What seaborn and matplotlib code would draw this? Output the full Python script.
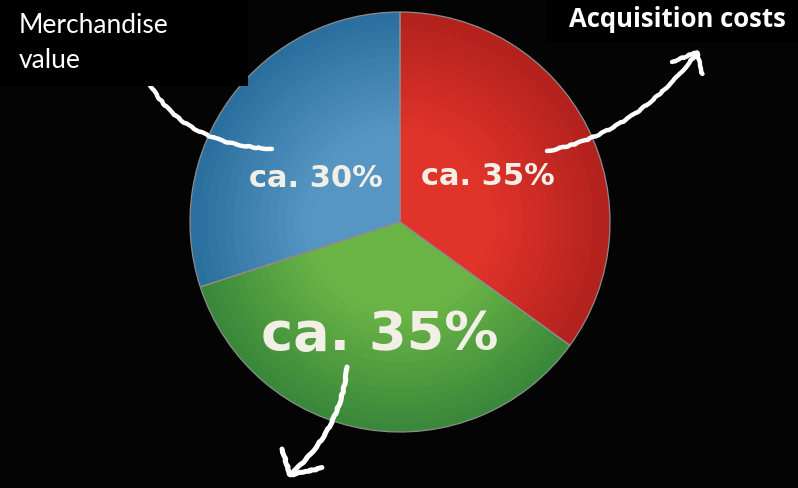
import numpy as np
import matplotlib
matplotlib.use("Agg")
import matplotlib.pyplot as plt
from matplotlib.path import Path
from matplotlib.patches import PathPatch, Rectangle
import matplotlib.colors as mcolors
import seaborn as sns

# Cost shares (clockwise from 12 o'clock)
categories = ["Acquisition costs", "Other", "Merchandise value"]
shares = [35, 35, 30]
edge_colors = ["#b3221d", "#3a883a", "#2b6f9e"]
inner_colors = ["#e0332a", "#6ab446", "#5796c2"]
label_sizes = [22, 39, 22]
# small nudges of the percentage labels (in pie-radius units)
label_nudge = [(-0.02, 0.0), (-0.02, -0.048), (-0.005, -0.076)]

sns.set_theme(style="dark", rc={"figure.facecolor": "#040404",
                                "axes.facecolor": "#040404"})

W, H = 798, 489
fig = plt.figure(figsize=(W / 100, H / 100), dpi=100)

# pie axes: centre (400, 223) px, radius 210 px
cx, cy, R = 400, 223, 210
ax = fig.add_axes([(cx - R) / W, (H - cy - R) / H, 2 * R / W, 2 * R / H])
ax.set_facecolor("none")

# radial shading: stacked pies from the rim inwards
radii = np.linspace(1.0, 0.05, 24)
for r in radii:
    t = min(1.0, (1.0 - r) / 0.55)
    cols = []
    for e, i in zip(edge_colors, inner_colors):
        e_rgb = np.array(mcolors.to_rgb(e))
        i_rgb = np.array(mcolors.to_rgb(i))
        cols.append(tuple(e_rgb + (i_rgb - e_rgb) * t))
    ax.pie(shares, radius=r, colors=cols, startangle=90, counterclock=False,
           wedgeprops=dict(linewidth=0))

# thin outline on top
ax.pie(shares, radius=1.0, startangle=90, counterclock=False,
       wedgeprops=dict(fill=False, edgecolor="#8c8c8c", linewidth=0.9))

# percentage labels
_, _, autotexts = ax.pie(shares, radius=1.0, startangle=90, counterclock=False,
                         colors=["none"] * 3, pctdistance=0.49,
                         autopct=lambda p: f"ca. {p:.0f}%",
                         wedgeprops=dict(linewidth=0))
for txt, size, (dx, dy) in zip(autotexts, label_sizes, label_nudge):
    txt.set_color("#f2efe6")
    txt.set_fontsize(size)
    txt.set_fontweight("bold")
    txt.set_family("DejaVu Sans")
    x, y = txt.get_position()
    txt.set_position((x + dx, y + dy))
ax.set_xlim(-1, 1)
ax.set_ylim(-1, 1)
ax.set_aspect("equal")
ax.axis("off")

# overlay in pixel coordinates for captions and arrows
ov = fig.add_axes([0, 0, 1, 1])
ov.set_xlim(0, W)
ov.set_ylim(H, 0)
ov.axis("off")
ov.set_facecolor("none")


def chalk_curve(points, codes, lw):
    patch = PathPatch(Path(points, codes), facecolor="none", edgecolor="white",
                      linewidth=lw, capstyle="round", joinstyle="round", zorder=3)
    patch.set_sketch_params(scale=0.5, length=25, randomness=8)
    ov.add_patch(patch)


def chalk_line(xs, ys, lw):
    ln, = ov.plot(xs, ys, color="white", lw=lw, solid_capstyle="round", zorder=3)
    ln.set_sketch_params(scale=0.5, length=15, randomness=8)


# arrow towards "Merchandise value"
chalk_curve([(147, 80), (180, 145), (272, 150)],
            [Path.MOVETO, Path.CURVE3, Path.CURVE3], 3.2)

# arrow towards "Acquisition costs"
chalk_curve([(547, 152), (612, 140), (662, 100), (697, 54)],
            [Path.MOVETO, Path.CURVE4, Path.CURVE4, Path.CURVE4], 3.2)
chalk_line([672, 697, 702], [63, 53, 75], 3.2)

# arrow pointing down-left
chalk_curve([(347, 368), (342, 430), (291, 475)],
            [Path.MOVETO, Path.CURVE3, Path.CURVE3], 3.6)
chalk_line([282, 290, 322], [450, 476, 469], 3.6)

# caption boxes
ov.add_patch(Rectangle((0, 0), 248, 87, facecolor="black", edgecolor="none", zorder=4))
ov.add_patch(Rectangle((547, 0), 251, 43, facecolor="black", edgecolor="none", zorder=4))
ov.text(19, 33, "Merchandise", color="white", fontsize=19, family="Lato",
        ha="left", va="baseline", zorder=5)
ov.text(19, 68, "value", color="white", fontsize=19, family="Lato",
        ha="left", va="baseline", zorder=5)
ov.text(677, 27, "Acquisition costs", color="white", fontsize=18.5, family="Open Sans",
        fontweight="bold", ha="center", va="baseline", zorder=5)

fig.savefig("out.png", dpi=100, facecolor=fig.get_facecolor())
